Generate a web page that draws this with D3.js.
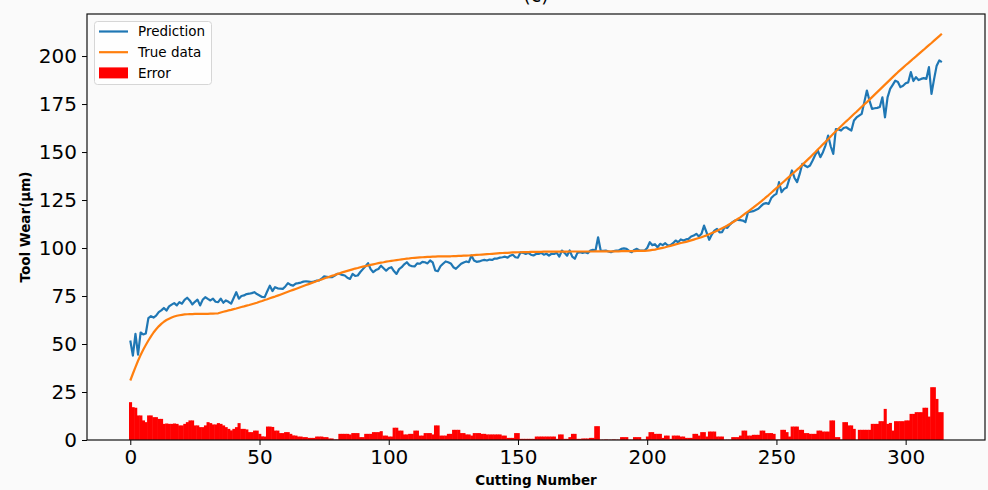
<!DOCTYPE html>
<html>
<head>
<meta charset="utf-8">
<script src="https://cdn.jsdelivr.net/npm/d3@7"></script>
<style>
  body { margin: 0; background: #fafafa; }
  text { font-family: 'DejaVu Sans', sans-serif; }
</style>
</head>
<body>
<div id="viz"></div>
<script>
// values, one per cutting number (0..314)
const trueData = [
    31.0, 34.5, 38.0, 41.3, 44.3, 47.0, 49.5, 51.8, 54.0, 56.0,
    57.7, 59.2, 60.5, 61.6, 62.5, 63.2, 63.8, 64.3, 64.7, 65.0,
    65.2, 65.4, 65.5, 65.6, 65.6, 65.7, 65.7, 65.7, 65.7, 65.7,
    65.7, 65.8, 65.8, 65.9, 66.0, 66.4, 66.8, 67.1, 67.5, 67.8,
    68.2, 68.5, 68.9, 69.3, 69.6, 70.0, 70.3, 70.7, 71.1, 71.5,
    72.0, 72.4, 72.9, 73.3, 73.8, 74.3, 74.7, 75.2, 75.7, 76.2,
    76.7, 77.2, 77.7, 78.2, 78.7, 79.2, 79.7, 80.2, 80.7, 81.2,
    81.7, 82.2, 82.7, 83.2, 83.6, 84.1, 84.6, 85.0, 85.5, 85.9,
    86.4, 86.8, 87.3, 87.7, 88.1, 88.5, 88.9, 89.3, 89.6, 90.0,
    90.3, 90.6, 90.9, 91.2, 91.5, 91.8, 92.1, 92.4, 92.6, 92.9,
    93.1, 93.3, 93.5, 93.7, 93.9, 94.1, 94.3, 94.5, 94.6, 94.8,
    94.9, 95.0, 95.1, 95.2, 95.3, 95.4, 95.4, 95.5, 95.5, 95.6,
    95.6, 95.6, 95.7, 95.7, 95.7, 95.8, 95.8, 95.9, 95.9, 96.0,
    96.0, 96.1, 96.2, 96.3, 96.4, 96.5, 96.6, 96.7, 96.8, 96.9,
    97.0, 97.1, 97.2, 97.3, 97.4, 97.5, 97.5, 97.6, 97.7, 97.7,
    97.8, 97.8, 97.9, 97.9, 97.9, 98.0, 98.0, 98.0, 98.0, 98.0,
    98.1, 98.1, 98.1, 98.1, 98.1, 98.1, 98.1, 98.1, 98.1, 98.1,
    98.2, 98.2, 98.2, 98.2, 98.2, 98.2, 98.2, 98.2, 98.2, 98.2,
    98.3, 98.3, 98.3, 98.3, 98.3, 98.3, 98.3, 98.3, 98.3, 98.3,
    98.4, 98.4, 98.4, 98.4, 98.4, 98.4, 98.5, 98.5, 98.5, 98.5,
    98.6, 98.8, 99.0, 99.2, 99.5, 99.8, 100.1, 100.4, 100.8, 101.1,
    101.5, 101.9, 102.2, 102.6, 102.9, 103.2, 103.6, 104.0, 104.4, 104.8,
    105.2, 105.6, 106.1, 106.6, 107.2, 107.8, 108.4, 109.0, 109.6, 110.3,
    111.0, 111.7, 112.5, 113.3, 114.2, 115.1, 116.0, 117.0, 118.0, 119.0,
    120.0, 121.0, 122.1, 123.1, 124.2, 125.3, 126.5, 127.6, 128.8, 130.0,
    131.2, 132.4, 133.6, 134.8, 136.0, 137.2, 138.4, 139.6, 140.8, 142.0,
    143.3, 144.6, 145.9, 147.2, 148.6, 149.9, 151.3, 152.6, 154.0, 155.3,
    156.7, 158.1, 159.5, 160.8, 162.1, 163.4, 164.7, 166.0, 167.2, 168.5,
    169.8, 171.0, 172.3, 173.6, 174.8, 176.0, 177.3, 178.6, 179.9, 181.2,
    182.5, 183.8, 185.1, 186.4, 187.7, 189.0, 190.3, 191.6, 192.8, 194.0,
    195.2, 196.3, 197.5, 198.7, 199.8, 201.0, 202.2, 203.3, 204.5, 205.7,
    206.8, 208.0, 209.2, 210.4, 211.6
]

const prediction = [
    51.8, 44.0, 55.3, 44.5, 56.0, 55.0, 55.5, 63.5, 64.5, 63.8,
    64.8, 66.6, 67.5, 68.8, 67.4, 69.6, 70.5, 71.3, 70.1, 71.8,
    71.0, 73.0, 74.1, 72.7, 70.6, 72.0, 73.1, 70.1, 73.0, 74.4,
    73.5, 72.7, 73.6, 72.0, 71.8, 73.6, 71.5, 72.7, 72.0, 71.0,
    74.0, 77.0, 73.6, 75.0, 75.3, 76.0, 76.2, 76.5, 77.0, 76.0,
    75.3, 74.5, 74.4, 77.5, 80.4, 77.6, 79.6, 79.0, 78.8, 78.7,
    80.0, 81.7, 80.8, 80.4, 81.5, 81.7, 82.0, 82.5, 82.7, 82.5,
    82.2, 82.5, 83.0, 83.1, 84.0, 85.2, 85.0, 84.8, 84.8, 85.5,
    86.5, 86.5, 86.0, 85.7, 84.5, 83.9, 86.5, 85.5, 85.7, 87.5,
    89.0, 90.5, 92.1, 89.0, 87.4, 88.5, 89.1, 90.8, 89.5, 88.2,
    89.5, 90.0, 88.0, 86.5, 89.0, 90.0, 91.5, 92.6, 91.0, 90.5,
    90.4, 92.0, 91.8, 92.8, 92.6, 92.0, 93.5, 92.5, 88.3, 87.9,
    90.5, 91.8, 93.0, 92.6, 92.0, 90.0, 89.2, 90.5, 91.8, 92.5,
    93.0, 92.6, 96.1, 93.5, 92.8, 93.0, 93.5, 93.8, 93.5, 94.0,
    93.8, 94.5, 94.5, 95.0, 95.2, 95.5, 95.0, 96.0, 96.5, 95.2,
    95.0, 97.8, 97.5, 96.9, 97.5, 96.5, 96.1, 96.9, 96.9, 97.5,
    96.5, 97.0, 96.1, 97.0, 96.9, 97.5, 95.5, 98.7, 97.5, 96.0,
    98.7, 95.5, 94.4, 97.5, 97.8, 97.5, 97.8, 97.3, 98.7, 99.0,
    98.7, 105.6, 98.7, 98.5, 98.7, 98.2, 97.8, 98.4, 98.6, 98.7,
    99.6, 99.8, 99.6, 98.5, 97.8, 99.0, 99.6, 98.7, 98.6, 98.7,
    100.0, 103.0, 101.5, 102.0, 100.4, 102.2, 101.5, 102.5, 101.3, 101.5,
    102.5, 103.9, 103.0, 104.5, 103.9, 104.5, 104.8, 106.0, 106.5, 107.4,
    106.0, 107.4, 111.7, 108.0, 104.3, 107.0, 109.1, 110.0, 108.2, 108.3,
    110.9, 110.5, 112.2, 113.5, 114.3, 114.7, 114.5, 114.3, 113.5, 118.7,
    118.9, 119.2, 119.8, 120.4, 121.8, 123.0, 123.4, 123.0, 126.0, 127.4,
    128.2, 134.3, 129.1, 130.8, 131.5, 136.0, 140.4, 136.5, 134.3, 138.6,
    143.8, 143.0, 142.1, 143.0, 145.6, 148.5, 150.8, 147.3, 149.9, 153.5,
    158.6, 153.0, 149.0, 162.0, 161.8, 161.2, 162.5, 162.9, 162.0, 161.2,
    166.4, 168.0, 169.0, 169.9, 176.0, 182.0, 176.8, 172.5, 172.8, 173.0,
    173.5, 178.5, 168.1, 178.5, 182.9, 185.0, 187.2, 186.5, 183.8, 184.5,
    185.8, 186.3, 191.6, 187.0, 189.0, 187.5, 188.1, 188.5, 188.1, 194.2,
    180.3, 188.0, 195.0, 197.7, 196.8
]

const errorData = [
    19.7, 17.1, 16.8, 12.8, 12.8, 10.2, 9.3, 12.8, 12.8, 11.9,
    11.9, 11.0, 11.0, 8.4, 8.6, 8.4, 8.4, 8.6, 8.4, 7.6,
    7.6, 8.4, 9.3, 10.2, 10.2, 7.6, 7.6, 6.7, 6.7, 7.6,
    9.3, 8.8, 8.1, 8.1, 8.8, 8.4, 7.6, 6.7, 5.8, 5.0,
    5.8, 6.7, 8.8, 5.8, 5.8, 5.5, 4.1, 4.1, 4.9, 4.9,
    3.2, 1.9, 1.8, 7.0, 7.0, 6.8, 4.9, 4.9, 3.6, 3.6,
    4.1, 4.1, 3.2, 2.4, 2.3, 1.8, 1.8, 1.5, 1.5, 1.1,
    1.1, 1.1, 1.8, 1.8, 1.8, 1.5, 1.5, 0.8, 0.8, 0.3,
    0.3, 3.2, 3.2, 3.2, 3.2, 2.9, 3.6, 3.6, 3.6, 1.5,
    1.5, 3.2, 3.2, 3.2, 4.1, 4.1, 4.1, 4.6, 2.3, 2.3,
    1.8, 1.8, 6.4, 6.4, 4.9, 4.9, 2.9, 2.9, 3.2, 3.2,
    4.9, 4.9, 2.3, 2.3, 3.6, 3.6, 3.6, 2.9, 7.6, 7.6,
    2.3, 2.3, 2.3, 3.2, 3.2, 5.3, 5.3, 5.3, 3.6, 3.6,
    2.9, 2.9, 2.3, 3.6, 3.6, 3.6, 3.2, 3.2, 2.9, 2.9,
    2.9, 2.9, 2.9, 2.9, 2.3, 2.3, 1.1, 1.1, 1.1, 3.6,
    3.6, 0.6, 0.6, 0.6, 0.6, 0.6, 0.6, 1.8, 1.8, 1.8,
    1.8, 1.8, 1.8, 1.8, 1.8, 0.6, 2.9, 2.9, 0.6, 0.6,
    1.5, 3.2, 3.2, 0.6, 0.6, 0.8, 0.8, 0.8, 1.1, 1.1,
    7.2, 7.2, 0.2, 0.2, 0.3, 0.2, 0.2, 0.3, 0.2, 0.2,
    1.5, 1.5, 1.5, 0.2, 0.2, 1.5, 1.5, 1.5, 0.2, 0.2,
    1.8, 4.1, 4.1, 3.2, 3.2, 3.2, 1.1, 2.3, 2.3, 0.6,
    2.3, 2.3, 2.3, 1.8, 1.8, 1.1, 1.1, 1.1, 3.2, 3.2,
    2.3, 4.1, 4.1, 1.8, 4.4, 4.4, 4.4, 1.8, 1.8, 1.8,
    0.2, 0.2, 0.2, 1.5, 1.5, 1.5, 2.3, 4.9, 4.9, 2.3,
    2.3, 2.7, 2.7, 2.7, 4.9, 4.9, 3.6, 3.6, 3.6, 3.2,
    0.2, 0.2, 5.3, 5.3, 4.1, 1.8, 7.0, 7.0, 7.0, 5.3,
    5.3, 3.6, 3.6, 3.2, 3.2, 3.2, 4.9, 4.9, 4.4, 4.4,
    4.4, 10.2, 10.2, 1.5, 1.5, 0.2, 9.3, 9.3, 7.6, 7.6,
    5.8, 0.2, 5.3, 5.3, 5.3, 5.3, 5.3, 8.4, 8.4, 8.4,
    9.8, 9.8, 16.2, 8.4, 8.9, 4.9, 9.8, 9.8, 9.8, 9.8,
    10.2, 10.2, 13.6, 13.6, 14.5, 14.5, 14.5, 16.8, 16.8, 12.2,
    27.5, 27.5, 21.4, 14.5, 14.5
]

const cuttingNumber = d3.range(trueData.length)
const xTicks = [0, 50, 100, 150, 200, 250, 300]
const yTicks = [0, 25, 50, 75, 100, 125, 150, 175, 200]

render = () => {
    const w = 988, h = 490
    const left = 87, right = 985, top = 14, bottom = 440

    const svg = d3.select('#viz')
        .append('svg')
        .attr('width', w)
        .attr('height', h)

    svg.append('rect')
        .attr('width', w)
        .attr('height', h)
        .attr('fill', '#fafafa')

    const x = d3.scaleLinear()
        .domain([-16.75, 330.7])
        .range([left, right])

    const y = d3.scaleLinear()
        .domain([0, 221.9])
        .range([bottom, top])

    // error bars, slightly widened so neighbours touch without seams
    const bw = x(1) - x(0)
    svg.append('g')
        .selectAll('rect')
        .data(cuttingNumber)
        .enter()
        .append('rect')
        .attr('x', i => x(i - 0.5))
        .attr('width', bw + 0.5)
        .attr('y', i => y(errorData[i]))
        .attr('height', i => y(0) - y(errorData[i]))
        .attr('fill', '#ff0000')

    const line = d3.line()
        .x(d => x(d[0]))
        .y(d => y(d[1]))

    svg.append('path')
        .datum(cuttingNumber.map(i => [i, prediction[i]]))
        .attr('d', line)
        .attr('fill', 'none')
        .attr('stroke', '#1f77b4')
        .attr('stroke-width', 2.2)
        .attr('stroke-linejoin', 'round')

    svg.append('path')
        .datum(cuttingNumber.map(i => [i, trueData[i]]))
        .attr('d', line)
        .attr('fill', 'none')
        .attr('stroke', '#ff7f0e')
        .attr('stroke-width', 2.2)
        .attr('stroke-linejoin', 'round')

    // axes
    const xAxisG = svg.append('g')
        .attr('transform', `translate(0, ${bottom})`)
        .call(d3.axisBottom(x).tickValues(xTicks).tickSize(5).tickPadding(5))
    xAxisG.select('.domain').remove()

    const yAxisG = svg.append('g')
        .attr('transform', `translate(${left}, 0)`)
        .call(d3.axisLeft(y).tickValues(yTicks).tickSize(5).tickPadding(5))
    yAxisG.select('.domain').remove()

    svg.selectAll('.tick text')
        .attr('font-size', 20)
        .attr('font-family', 'DejaVu Sans')
        .attr('fill', '#000')
    svg.selectAll('.tick line')
        .attr('stroke', '#000')

    svg.append('rect')
        .attr('x', left)
        .attr('y', top)
        .attr('width', right - left)
        .attr('height', bottom - top)
        .attr('fill', 'none')
        .attr('stroke', '#111')
        .attr('stroke-width', 1.2)

    svg.append('text')
        .attr('x', (left + right) / 2)
        .attr('y', 485)
        .attr('text-anchor', 'middle')
        .attr('font-size', 13.5)
        .attr('font-weight', 'bold')
        .text('Cutting Number')

    svg.append('text')
        .attr('transform', `translate(30, ${(top + bottom) / 2}) rotate(-90)`)
        .attr('text-anchor', 'middle')
        .attr('font-size', 13.5)
        .attr('font-weight', 'bold')
        .text('Tool Wear(μm)')

    // title, mostly cut off at the top as in the source figure
    svg.append('text')
        .attr('x', (left + right) / 2)
        .attr('y', 2)
        .attr('text-anchor', 'middle')
        .attr('font-size', 19)
        .text('(c)')

    // legend
    const lg = svg.append('g')
    lg.append('rect')
        .attr('x', 94.5)
        .attr('y', 21.5)
        .attr('width', 117)
        .attr('height', 63)
        .attr('rx', 3)
        .attr('fill', '#ffffff')
        .attr('fill-opacity', 0.8)
        .attr('stroke', '#d6d6d6')

    const items = [
        { label: 'Prediction', color: '#1f77b4', type: 'line' },
        { label: 'True data', color: '#ff7f0e', type: 'line' },
        { label: 'Error', color: '#ff0000', type: 'patch' }
    ]
    items.forEach((it, k) => {
        const cy = 31.5 + k * 20.7
        if (it.type === 'line') {
            lg.append('line')
                .attr('x1', 99).attr('x2', 128)
                .attr('y1', cy).attr('y2', cy)
                .attr('stroke', it.color)
                .attr('stroke-width', 2.2)
        } else {
            lg.append('rect')
                .attr('x', 99).attr('y', cy - 5.5)
                .attr('width', 29).attr('height', 11)
                .attr('fill', it.color)
        }
        lg.append('text')
            .attr('x', 138)
            .attr('y', cy)
            .attr('dy', '0.35em')
            .attr('font-size', 13.5)
            .text(it.label)
    })
}

render()
</script>
</body>
</html>
